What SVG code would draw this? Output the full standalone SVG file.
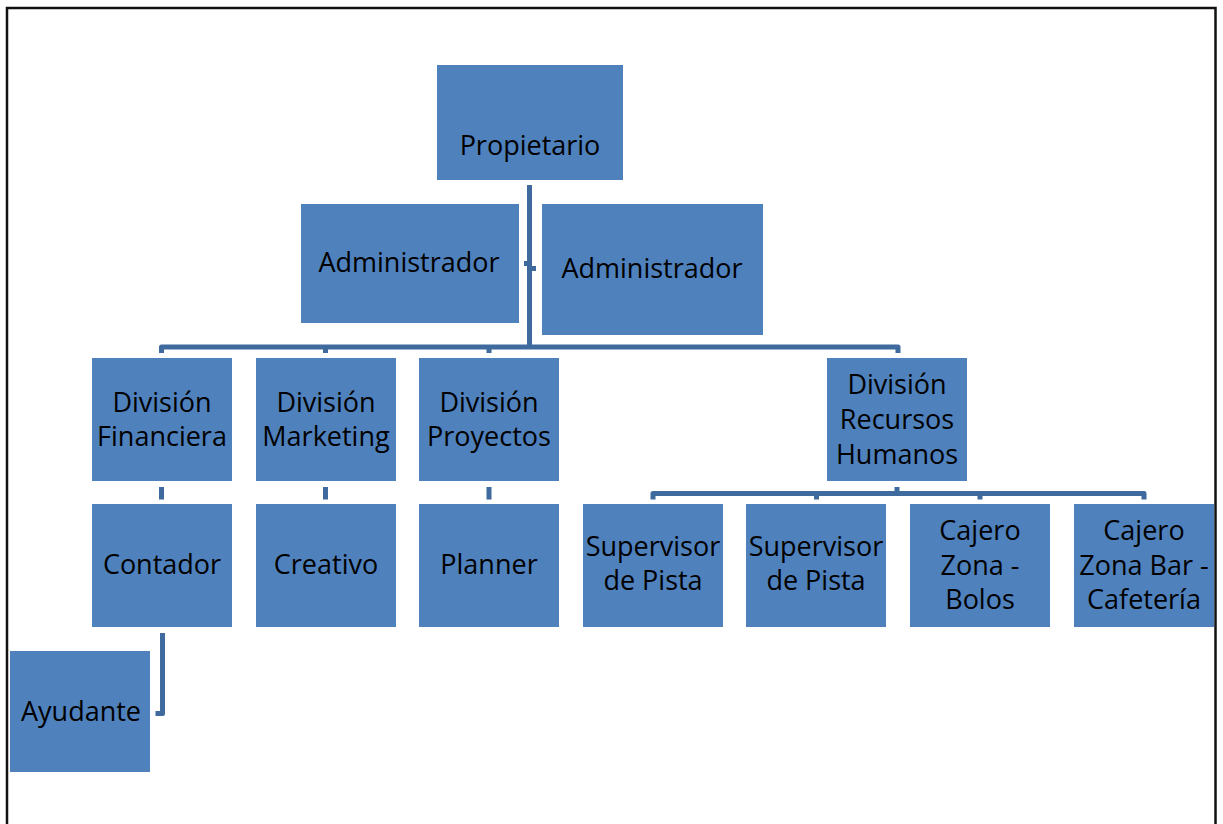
<svg xmlns="http://www.w3.org/2000/svg" width="1223" height="824" viewBox="0 0 1223 824">
<style>
.box{fill:#4F81BD;}
.t{font-family:"Open Sans","Noto Sans","Liberation Sans",sans-serif;font-size:27px;fill:#000;text-anchor:middle;}
.c{fill:none;stroke:#3F6A9E;stroke-width:5;stroke-linejoin:round;stroke-linecap:butt;}
</style>
<rect x="0" y="0" width="1223" height="824" fill="#fff"/>
<rect x="7" y="8" width="1208.5" height="840" fill="none" stroke="#111" stroke-width="2.5"/>
<g id="connectors">
<path class="c" d="M529.5 185 V347"/>
<path class="c" d="M524 263.5 H529.5 M529.5 268.5 H536"/>
<path class="c" d="M161.5 353 V347 H898 V353"/>
<path class="c" d="M325.5 347 V353 M489 347 V353"/>
<path class="c" d="M161.5 487 V499.5 M325.5 487 V499.5 M489 487 V499.5"/>
<path class="c" d="M162.5 633 V713.5 H155.5"/>
<path class="c" d="M897 487 V493.5"/>
<path class="c" d="M653 499.5 V493.5 H1144 V499.5"/>
<path class="c" d="M816.5 493.5 V499.5 M980 493.5 V499.5"/>
</g>
<g id="propietario"><rect class="box" x="437" y="65" width="186" height="115"/><text class="t" x="530" y="155">Propietario</text></g>
<g id="admin1"><rect class="box" x="301" y="204" width="218" height="119"/><text class="t" x="409" y="272">Administrador</text></g>
<g id="admin2"><rect class="box" x="542" y="204" width="221" height="131"/><text class="t" x="652" y="278">Administrador</text></g>
<g id="div-fin"><rect class="box" x="92" y="358" width="140" height="123"/><text class="t" x="162" y="412">División</text><text class="t" x="162" y="446">Financiera</text></g>
<g id="div-mkt"><rect class="box" x="256" y="358" width="140" height="123"/><text class="t" x="326" y="412">División</text><text class="t" x="326" y="446">Marketing</text></g>
<g id="div-proy"><rect class="box" x="419" y="358" width="140" height="123"/><text class="t" x="489" y="412">División</text><text class="t" x="489" y="446">Proyectos</text></g>
<g id="div-rrhh"><rect class="box" x="827" y="358" width="140" height="123"/><text class="t" x="897" y="394">División</text><text class="t" x="897" y="429">Recursos</text><text class="t" x="897" y="464">Humanos</text></g>
<g id="contador"><rect class="box" x="92" y="504" width="140" height="123"/><text class="t" x="162" y="574">Contador</text></g>
<g id="creativo"><rect class="box" x="256" y="504" width="140" height="123"/><text class="t" x="326" y="574">Creativo</text></g>
<g id="planner"><rect class="box" x="419" y="504" width="140" height="123"/><text class="t" x="489" y="574">Planner</text></g>
<g id="ayudante"><rect class="box" x="10" y="651" width="140" height="121"/><text class="t" x="81" y="721">Ayudante</text></g>
<g id="sup1"><rect class="box" x="583" y="504" width="140" height="123"/><text class="t" x="653" y="556">Supervisor</text><text class="t" x="653" y="590">de Pista</text></g>
<g id="sup2"><rect class="box" x="746" y="504" width="140" height="123"/><text class="t" x="816" y="556">Supervisor</text><text class="t" x="816" y="590">de Pista</text></g>
<g id="cajero-bolos"><rect class="box" x="910" y="504" width="140" height="123"/><text class="t" x="980" y="540">Cajero</text><text class="t" x="980" y="575">Zona -</text><text class="t" x="980" y="609">Bolos</text></g>
<g id="cajero-bar"><rect class="box" x="1074" y="504" width="140" height="123"/><text class="t" x="1144" y="540">Cajero</text><text class="t" x="1144" y="575">Zona Bar -</text><text class="t" x="1144" y="609">Cafetería</text></g>
</svg>
